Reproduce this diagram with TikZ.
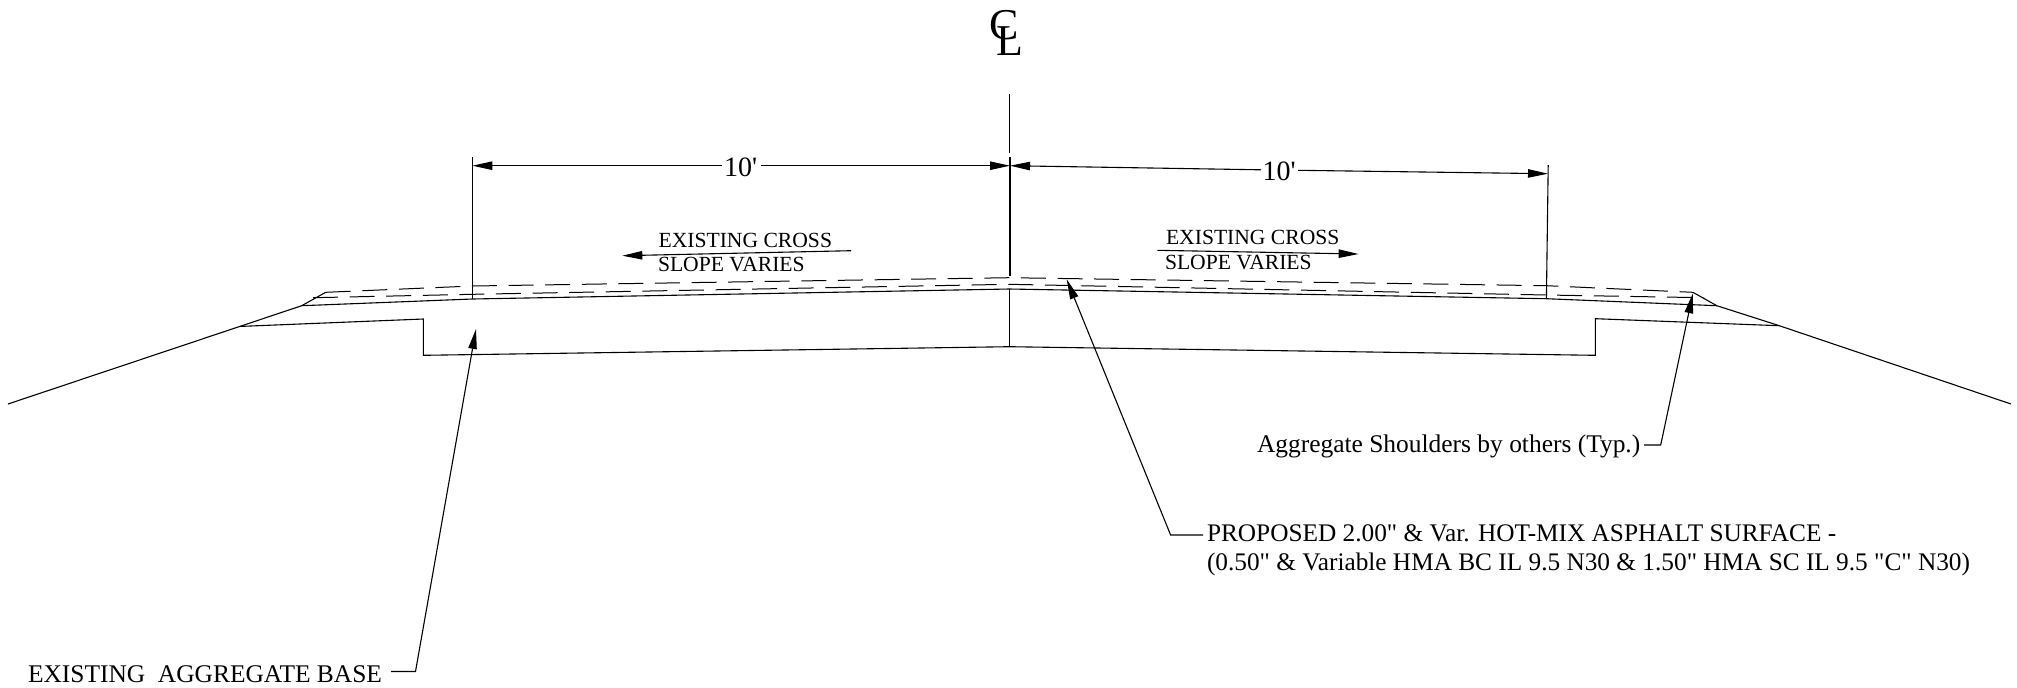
\documentclass[tikz,border=0pt]{standalone}
\usepackage{fontspec}
\usetikzlibrary{arrows.meta}
\newfontfamily\drawfont{Liberation Serif}
\tikzset{
  line/.style={line width=0.55pt,black},
  lead/.style={line,-{Triangle[length=10pt,width=4.2pt]}},
  dashline/.style={line width=0.5pt,black,dash pattern=on 12.5pt off 5.8pt},
  lbl/.style={inner sep=0pt,outer sep=0pt,anchor=base west,font=\drawfont\fontsize{12.72}{15}\selectfont},
  lblb/.style={inner sep=0pt,outer sep=0pt,anchor=base west,font=\drawfont\fontsize{12.65}{15}\selectfont},
  small/.style={inner sep=0pt,outer sep=0pt,anchor=base west,font=\drawfont\fontsize{10.8}{13}\selectfont},
  dim/.style={inner sep=0pt,outer sep=0pt,anchor=base west,font=\drawfont\fontsize{14}{16}\selectfont},
  cl/.style={inner sep=0pt,outer sep=0pt,anchor=base west,font=\drawfont\fontsize{22}{24}\selectfont}
}
\begin{document}
\begin{tikzpicture}[x=0.5pt,y=-0.5pt]
\useasboundingbox (0,0) rectangle (2017,687);
% ground / surface points
\coordinate (gl) at (8,404);
\coordinate (sl) at (301.7,305.7);
\coordinate (dl) at (325.7,292.3);
\coordinate (sr) at (1716.8,305.7);
\coordinate (dr) at (1692.9,292.3);
\coordinate (gm) at (1779.3,325.7);
\coordinate (gr) at (2011,404);
\coordinate (sbl) at (240.5,326.4);
\coordinate (stl) at (423.3,319);
\coordinate (stlb) at (423.3,355.3);
\coordinate (cb) at (1009.3,346.7);
\coordinate (strb) at (1595.4,355.3);
\coordinate (str) at (1595.4,318.7);
\coordinate (el) at (472.3,299);
\coordinate (elt) at (472.3,157);
\coordinate (er) at (1546.4,298.7);
\coordinate (ert) at (1548.2,165);
\coordinate (c0) at (1009.3,94.3);
\coordinate (c1) at (1009.3,153);
\coordinate (c2) at (1010,157);
\coordinate (c3) at (1010,276);
\coordinate (c4) at (1009.3,289);
% surface
\draw[line] (gl) -- (sl) -- (dl);
\draw[line] (sl) -- (el) -- (c4) -- (er) -- (sr);
\draw[line] (dr) -- (sr) -- (gm) -- (gr);
\draw[line] (sbl) -- (stl) -- (stlb) -- (cb) -- (strb) -- (str) -- (gm);
% overlay dashed lines
\draw[dashline] (dl) -- (472.3,286) -- (1009.3,277.7) -- (1546.4,285.7) -- (dr);
\draw[dashline] (313,297.7) -- (472.3,294.3) -- (1009.3,284.3) -- (1546.4,295) -- (1704,297.7);
% extension lines
\draw[line] (elt) -- (el);
\draw[line] (ert) -- (er);
\draw[line] (c0) -- (c1);
\draw[line] (c2) -- (c3);
\draw[line] (c4) -- (cb);
% dimensions
\node[dim] (dimL) at (724,176) {10'};
\node[dim] (dimR) at (1262.5,180.7) {10'};
\coordinate (dla) at (472.3,165.7);
\coordinate (dlb) at (1010,165.7);
\coordinate (drb) at (1010,165.7);
\coordinate (dre) at (1548,173.7);
\draw[lead] (722,165.7) -- (dla);
\draw[lead] (761,165.7) -- (dlb);
\draw[lead] (1261,169.8) -- (drb);
\draw[lead] (1298,170.3) -- (dre);
% slope notes
\node[small] (s1) at (658.6,247.3) {EXISTING CROSS};
\node[small] (s2) at (658,271.7) {SLOPE VARIES};
\node[small] (s3) at (1166,244.3) {EXISTING CROSS};
\node[small] (s4) at (1165,269) {SLOPE VARIES};
\coordinate (a1) at (851,250.7);
\coordinate (a2) at (622.3,255.7);
\coordinate (a3) at (1157.3,250.3);
\coordinate (a4) at (1358.6,254);
\draw[lead] (a1) -- (a2);
\draw[lead] (a3) -- (a4);
% leaders
\node[lbl] (base) at (28,682) {EXISTING\ \ AGGREGATE BASE};
\coordinate (b1) at (391,671.5);
\coordinate (b2) at (415.5,671.5);
\coordinate (b3) at (476,329);
\draw[lead] (b1) -- (b2) -- (b3);
\node[lblb] (prop1) at (1207,541.5) {PROPOSED 2.00" \& Var. HOT-MIX ASPHALT SURFACE -};
\node[lblb] (prop2) at (1207,570.5) {(0.50" \& Variable HMA BC IL 9.5 N30 \& 1.50" HMA SC IL 9.5 "C" N30)};
\coordinate (p1) at (1203,535);
\coordinate (p2) at (1170.6,535);
\coordinate (p3) at (1066.7,279.3);
\draw[lead] (p1) -- (p2) -- (p3);
\node[lbl] (sh) at (1257,452.5) {Aggregate Shoulders by others (Typ.)};
\coordinate (q1) at (1644,445);
\coordinate (q2) at (1660.7,445);
\coordinate (q3) at (1692.9,293.3);
\draw[lead] (q1) -- (q2) -- (q3);
% centre line symbol
\node[cl] (clc) at (989,39) {C};
\node[cl] (cll) at (996,55) {L};
\end{tikzpicture}
\end{document}
